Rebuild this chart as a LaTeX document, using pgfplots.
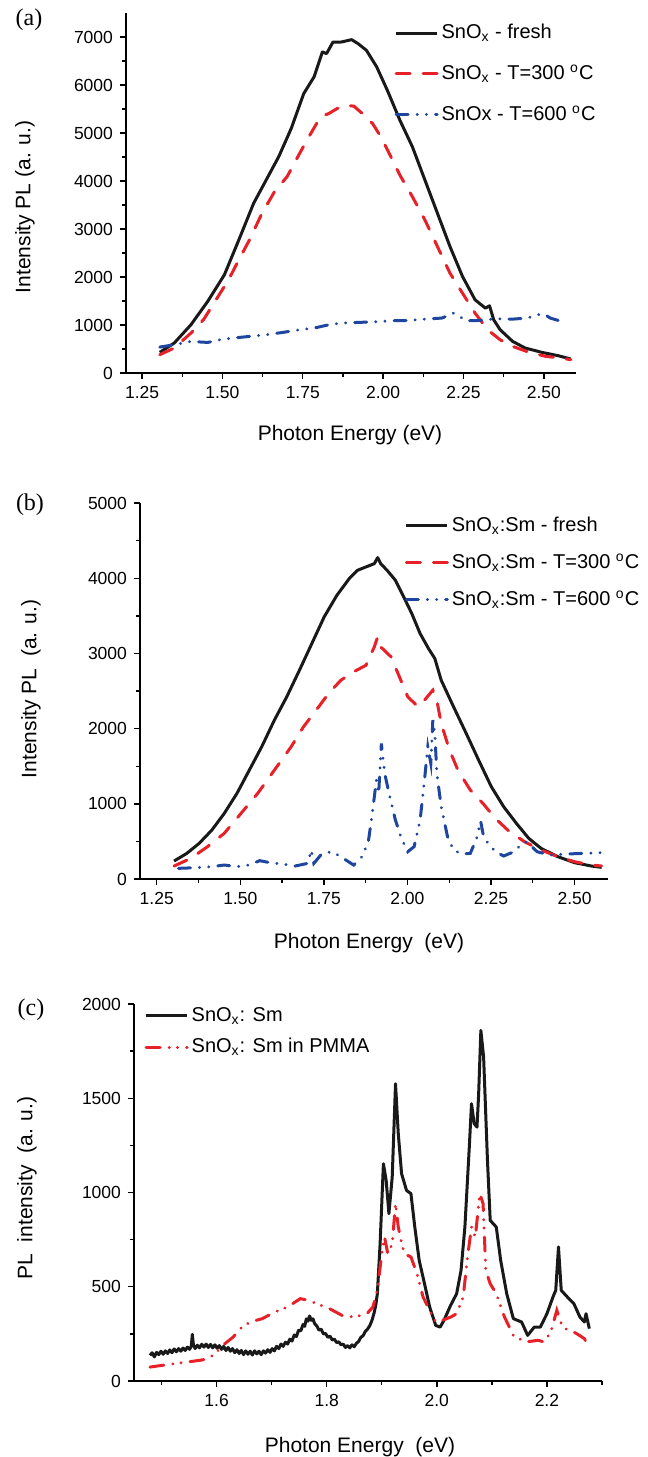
\documentclass[border=0pt]{standalone}
\usepackage{fontspec}
\setmainfont{Liberation Sans}
\newfontfamily\panelfont{Liberation Serif}
\usepackage{pgfplots}
\pgfplotsset{compat=1.18}
\definecolor{pred}{RGB}{232,32,40}
\definecolor{pblue}{RGB}{30,70,160}
\definecolor{pblack}{RGB}{25,25,25}

\pgfplotsset{
  plstyle/.style={
    scale only axis,
    axis lines=left,
    axis line style={-, line width=0.7pt},
    tick align=outside,
    major tick length=3pt,
    minor tick length=2pt,
    tick style={line width=0.7pt, black},
    minor y tick num=1,
    /pgf/number format/assume math mode=true,
    tick label style={font=\fontsize{8.75}{10}\selectfont},
    y tick label style={/pgf/number format/1000 sep={}},
    legend style={draw=none, fill=none, font=\fontsize{10}{12}\selectfont,
      inner sep=0pt, nodes={inner sep=1.5pt}},
    legend cell align=left,
    legend image code/.code={\draw[##1] (0pt,0pt) -- (20.5pt,0pt);},
    no marks,
  },
  blk/.style={pblack, line width=1.5pt, line join=round},
  rdash/.style={pred, line width=1.5pt, line cap=round, dash pattern=on 7pt off 6.5pt},
  bdd/.style={pblue, line width=1.5pt, line cap=round, dash pattern=on 6pt off 4.5pt on 0.1pt off 4.5pt on 0.1pt off 4.5pt},
  rdd/.style={pred, line width=1.5pt, line cap=round, dash pattern=on 7pt off 4.5pt on 0.1pt off 4pt on 0.1pt off 4.5pt},
}

\begin{document}
\begin{tikzpicture}
\path[use as bounding box] (0,0) rectangle (324pt,-728.5pt);

% ---------------- (a)
\begin{axis}[plstyle,
  at={(63pt,-186.5pt)}, anchor=south west,
  width=225pt, height=180pt,
  xmin=1.2, xmax=2.6, ymin=0, ymax=7500,
  xtick={1.25,1.5,1.75,2,2.25,2.5},
  minor xtick={1.375,1.625,1.875,2.125,2.375},
  ytick={0,1000,...,7000},
  x tick label style={/pgf/number format/.cd, fixed, fixed zerofill, precision=2},
  legend style={at={(0.596,0.978)}, anchor=north west, row sep=8.5pt},
]
\addplot[blk] coordinates {(1.305,430)(1.35,624)(1.402,1005)(1.454,1490)(1.506,2045)(1.551,2772)(1.597,3535)(1.636,4020)(1.675,4505)(1.714,5094)(1.753,5822)(1.785,6169)(1.811,6690)(1.824,6654)(1.844,6896)(1.870,6896)(1.902,6945)(1.922,6862)(1.948,6723)(1.980,6377)(2.013,5891)(2.052,5268)(2.091,4713)(2.130,4020)(2.169,3327)(2.208,2634)(2.247,2010)(2.286,1525)(2.318,1352)(2.331,1400)(2.344,1109)(2.364,901)(2.403,658)(2.442,520)(2.494,430)(2.545,360)(2.584,291)};
\addlegendentry{SnO\textsubscript{x} - fresh}
\addplot[rdash] coordinates {(1.305,381)(1.35,520)(1.402,832)(1.441,1109)(1.48,1525)(1.519,1941)(1.551,2357)(1.584,2772)(1.623,3327)(1.662,3777)(1.701,4089)(1.740,4574)(1.772,4956)(1.805,5337)(1.831,5406)(1.857,5510)(1.883,5580)(1.909,5559)(1.935,5406)(1.967,5198)(1.993,4921)(2.019,4574)(2.052,4124)(2.091,3673)(2.13,3188)(2.169,2634)(2.208,2079)(2.247,1663)(2.286,1248)(2.325,901)(2.364,693)(2.403,554)(2.455,430)(2.506,347)(2.552,312)(2.584,277)};
\addlegendentry{SnO\textsubscript{x} - T=300 \textsuperscript{o}C}
\addplot[bdd] coordinates {(1.305,540)(1.35,589)(1.402,658)(1.454,637)(1.493,693)(1.532,728)(1.584,762)(1.636,797)(1.688,846)(1.740,901)(1.785,936)(1.831,1005)(1.870,1040)(1.922,1054)(1.974,1067)(2.026,1088)(2.078,1095)(2.13,1123)(2.182,1144)(2.201,1192)(2.218,1248)(2.234,1192)(2.26,1088)(2.299,1095)(2.351,1130)(2.403,1123)(2.448,1144)(2.481,1213)(2.50,1234)(2.52,1144)(2.545,1095)(2.565,1144)};
\addlegendentry{SnOx - T=600 \textsuperscript{o}C}
\end{axis}

% ---------------- (b)
\begin{axis}[plstyle,
  at={(70pt,-439.5pt)}, anchor=south west,
  width=234pt, height=188pt,
  xmin=1.2, xmax=2.6, ymin=0, ymax=5000,
  xtick={1.25,1.5,1.75,2,2.25,2.5},
  minor xtick={1.375,1.625,1.875,2.125,2.375},
  ytick={0,1000,...,5000},
  x tick label style={/pgf/number format/.cd, fixed, fixed zerofill, precision=2},
  legend style={at={(0.565,0.973)}, anchor=north west, row sep=6.75pt},
]
\addplot[blk] coordinates {(1.302,239)(1.34,341)(1.377,474)(1.415,651)(1.452,872)(1.49,1138)(1.527,1448)(1.564,1758)(1.602,2113)(1.639,2423)(1.677,2777)(1.714,3131)(1.751,3486)(1.789,3773)(1.826,3995)(1.851,4106)(1.876,4150)(1.901,4194)(1.911,4274)(1.92,4194)(1.939,4106)(1.964,3973)(1.989,3751)(2.013,3530)(2.038,3264)(2.063,3065)(2.082,2932)(2.101,2644)(2.138,2290)(2.176,1935)(2.213,1581)(2.251,1227)(2.288,961)(2.326,740)(2.363,540)(2.4,407)(2.45,297)(2.5,217)(2.55,173)(2.581,155)};
\addlegendentry{SnO\textsubscript{x}:Sm - fresh}
\addplot[rdash] coordinates {(1.302,173)(1.352,275)(1.402,430)(1.452,607)(1.502,872)(1.552,1138)(1.602,1448)(1.652,1758)(1.689,2024)(1.727,2245)(1.764,2467)(1.801,2644)(1.839,2755)(1.876,2843)(1.901,3087)(1.911,3220)(1.92,3087)(1.951,2954)(1.976,2688)(2.001,2423)(2.032,2290)(2.051,2378)(2.076,2511)(2.088,2378)(2.101,2068)(2.126,1714)(2.151,1448)(2.188,1183)(2.226,1005)(2.263,806)(2.3,651)(2.35,496)(2.4,385)(2.45,297)(2.5,230)(2.55,186)(2.581,173)};
\addlegendentry{SnO\textsubscript{x}:Sm - T=300 \textsuperscript{o}C}
\addplot[bdd] coordinates {(1.315,142)(1.365,150)(1.415,164)(1.452,186)(1.49,164)(1.527,186)(1.558,244)(1.589,217)(1.627,199)(1.664,173)(1.702,208)(1.712,385)(1.72,208)(1.745,341)(1.776,363)(1.808,275)(1.839,186)(1.864,297)(1.883,496)(1.895,872)(1.907,1315)(1.914,1138)(1.922,1803)(1.932,1404)(1.945,1138)(1.964,784)(1.982,540)(2.001,363)(2.02,430)(2.038,784)(2.051,1315)(2.061,1758)(2.07,1537)(2.076,2113)(2.082,1935)(2.088,1404)(2.101,961)(2.12,562)(2.138,385)(2.163,332)(2.188,341)(2.207,540)(2.219,770)(2.226,607)(2.238,496)(2.263,363)(2.288,306)(2.319,363)(2.344,474)(2.357,496)(2.388,363)(2.426,319)(2.476,332)(2.525,341)(2.581,350)};
\addlegendentry{SnO\textsubscript{x}:Sm - T=600 \textsuperscript{o}C}
\end{axis}

% ---------------- (c)
\begin{axis}[plstyle,
  at={(67pt,-690.5pt)}, anchor=south west,
  width=234pt, height=188.5pt,
  xmin=1.45, xmax=2.3, ymin=0, ymax=2000,
  xtick={1.6,1.8,2.0,2.2},
  minor xtick={1.5,1.7,1.9,2.1,2.3},
  ytick={0,500,...,2000},
  minor ytick={250,750,1250,1750},
  x tick label style={/pgf/number format/.cd, fixed, fixed zerofill, precision=1},
  legend style={at={(0.022,1.0)}, anchor=north west, row sep=4pt},
]
\addplot[blk] coordinates {(1.479,136)(1.483,150)(1.487,128)(1.491,152)(1.495,140)(1.499,158)(1.503,142)(1.507,160)(1.511,146)(1.515,165)(1.519,150)(1.523,170)(1.527,155)(1.531,172)(1.535,158)(1.539,175)(1.543,162)(1.547,180)(1.551,168)(1.554,185)(1.556,248)(1.558,190)(1.561,172)(1.565,190)(1.569,176)(1.573,195)(1.577,180)(1.581,196)(1.585,178)(1.589,194)(1.593,176)(1.597,192)(1.601,174)(1.605,188)(1.609,168)(1.613,184)(1.617,162)(1.621,178)(1.625,158)(1.629,172)(1.633,150)(1.637,166)(1.641,146)(1.645,162)(1.649,140)(1.653,160)(1.657,142)(1.661,158)(1.665,138)(1.669,160)(1.673,144)(1.677,158)(1.681,140)(1.685,160)(1.689,148)(1.693,166)(1.697,152)(1.701,172)(1.705,160)(1.709,184)(1.713,172)(1.717,196)(1.721,184)(1.725,206)(1.729,196)(1.733,222)(1.737,212)(1.741,244)(1.745,236)(1.749,270)(1.753,266)(1.757,300)(1.760,290)(1.763,330)(1.766,318)(1.769,345)(1.772,322)(1.775,330)(1.778,305)(1.782,292)(1.786,270)(1.790,275)(1.794,250)(1.798,252)(1.802,232)(1.806,238)(1.810,218)(1.814,222)(1.818,204)(1.822,208)(1.826,192)(1.830,196)(1.834,178)(1.838,188)(1.842,176)(1.846,192)(1.850,182)(1.854,200)(1.858,210)(1.862,232)(1.866,240)(1.870,262)(1.874,275)(1.878,292)(1.882,320)(1.886,360)(1.889,400)(1.892,463)(1.897,728)(1.903,1153)(1.908,1064)(1.913,888)(1.919,1082)(1.925,1577)(1.93,1312)(1.936,1100)(1.945,1011)(1.953,994)(1.96,817)(1.968,640)(1.979,499)(1.987,393)(1.998,295)(2.006,286)(2.013,322)(2.025,401)(2.036,463)(2.044,587)(2.051,817)(2.059,1241)(2.063,1471)(2.068,1365)(2.073,1347)(2.076,1524)(2.08,1860)(2.085,1719)(2.092,1170)(2.097,852)(2.108,817)(2.116,640)(2.127,463)(2.139,331)(2.154,313)(2.165,242)(2.177,286)(2.188,286)(2.2,357)(2.211,446)(2.216,481)(2.221,711)(2.226,481)(2.237,446)(2.249,410)(2.26,339)(2.268,313)(2.271,357)(2.277,278)};
\addlegendentry{SnO\textsubscript{x}: Sm}
\addplot[rdd] coordinates {(1.479,74)(1.501,83)(1.524,92)(1.547,101)(1.57,110)(1.585,118)(1.6,154)(1.615,198)(1.63,233)(1.646,286)(1.661,313)(1.683,331)(1.706,366)(1.729,393)(1.752,437)(1.767,428)(1.782,410)(1.805,384)(1.828,348)(1.85,339)(1.873,357)(1.884,393)(1.892,481)(1.9,675)(1.905,764)(1.911,675)(1.919,728)(1.925,941)(1.93,817)(1.935,746)(1.941,675)(1.953,658)(1.964,569)(1.975,446)(1.987,375)(1.998,313)(2.01,322)(2.025,339)(2.036,357)(2.048,446)(2.055,640)(2.063,817)(2.07,764)(2.078,994)(2.084,941)(2.089,587)(2.097,516)(2.108,463)(2.123,339)(2.139,242)(2.161,207)(2.184,216)(2.195,207)(2.207,260)(2.218,375)(2.226,304)(2.237,269)(2.252,255)(2.268,225)(2.277,172)};
\addlegendentry{SnO\textsubscript{x}: Sm in PMMA}
\end{axis}

% labels
\node[font=\panelfont\fontsize{12}{14}\selectfont] at (14.5pt,-10pt) {(a)};
\node[font=\panelfont\fontsize{12}{14}\selectfont] at (15pt,-252.5pt) {(b)};
\node[font=\panelfont\fontsize{12}{14}\selectfont] at (15.5pt,-505pt) {(c)};
\node[font=\fontsize{10.5}{12}\selectfont, rotate=90] at (12.5pt,-103.5pt) {Intensity PL (a. u.)};
\node[font=\fontsize{10.5}{12}\selectfont] at (175pt,-217.5pt) {Photon Energy (eV)};
\node[font=\fontsize{10.5}{12}\selectfont, rotate=90] at (15.5pt,-344.5pt) {Intensity PL\ \ (a. u.)};
\node[font=\fontsize{10.5}{12}\selectfont] at (184.5pt,-471.5pt) {Photon Energy\ \ (eV)};
\node[font=\fontsize{10.5}{12}\selectfont, rotate=90] at (13.5pt,-594pt) {PL\ \ intensity\ \ (a. u.)};
\node[font=\fontsize{10.5}{12}\selectfont] at (180pt,-723.5pt) {Photon Energy\ \ (eV)};
\end{tikzpicture}
\end{document}
